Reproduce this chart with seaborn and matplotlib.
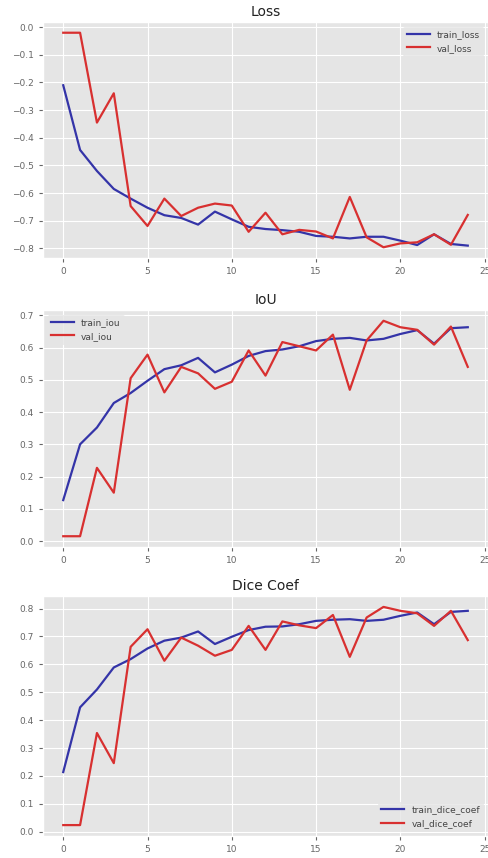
import numpy as np
import pandas as pd
import matplotlib
matplotlib.use("Agg")
import matplotlib.pyplot as plt
import seaborn as sns

epochs = list(range(25))

train_loss = [-0.21, -0.444, -0.52, -0.585, -0.62, -0.653, -0.68, -0.69, -0.714, -0.667,
              -0.695, -0.722, -0.73, -0.734, -0.74, -0.755, -0.758, -0.764, -0.758, -0.758,
              -0.772, -0.788, -0.749, -0.784, -0.79]
val_loss = [-0.02, -0.02, -0.345, -0.239, -0.647, -0.719, -0.62, -0.683, -0.653, -0.638,
            -0.645, -0.74, -0.671, -0.749, -0.733, -0.739, -0.764, -0.614, -0.76, -0.796,
            -0.782, -0.778, -0.749, -0.787, -0.679]

train_iou = [0.127, 0.30, 0.352, 0.428, 0.459, 0.497, 0.533, 0.545, 0.568, 0.523,
             0.547, 0.574, 0.589, 0.594, 0.604, 0.62, 0.627, 0.63, 0.622, 0.627,
             0.642, 0.654, 0.612, 0.66, 0.663]
val_iou = [0.015, 0.015, 0.227, 0.15, 0.505, 0.578, 0.461, 0.54, 0.52, 0.472,
           0.494, 0.591, 0.513, 0.617, 0.604, 0.591, 0.64, 0.469, 0.622, 0.683,
           0.663, 0.655, 0.609, 0.665, 0.54]

train_dice = [0.214, 0.446, 0.51, 0.589, 0.619, 0.657, 0.685, 0.696, 0.718, 0.673,
              0.699, 0.723, 0.735, 0.736, 0.744, 0.756, 0.76, 0.762, 0.756, 0.76,
              0.774, 0.786, 0.744, 0.788, 0.792]
val_dice = [0.024, 0.024, 0.354, 0.246, 0.663, 0.726, 0.613, 0.696, 0.667, 0.631,
            0.652, 0.738, 0.652, 0.754, 0.74, 0.73, 0.777, 0.627, 0.768, 0.806,
            0.792, 0.783, 0.738, 0.792, 0.687]

panels = [
    ("Loss", "train_loss", train_loss, "val_loss", val_loss, "upper right"),
    ("IoU", "train_iou", train_iou, "val_iou", val_iou, "upper left"),
    ("Dice Coef", "train_dice_coef", train_dice, "val_dice_coef", val_dice, "lower right"),
]

plt.style.use("ggplot")
W, H = 488, 858
fig = plt.figure(figsize=(W / 100, H / 100), dpi=100)

# axes boxes in pixels: left, top, right, bottom
boxes = [(43, 22, 488, 258), (43, 310, 488, 547), (43, 596, 488, 836)]

for (title, tname, tvals, vname, vvals, loc), (l, t, r, b) in zip(panels, boxes):
    ax = fig.add_axes([l / W, 1 - b / H, (r - l) / W, (b - t) / H])
    df = pd.DataFrame({
        "epoch": epochs + epochs,
        "value": tvals + vvals,
        "series": [tname] * len(tvals) + [vname] * len(vvals),
    })
    sns.lineplot(data=df, x="epoch", y="value", hue="series",
                 palette={tname: "#3434a8", vname: "#d83030"},
                 linewidth=1.6, ax=ax)
    ax.set_title(title, fontsize=10, pad=4, color="#222222")
    ax.set_xlabel("")
    ax.set_ylabel("")
    ax.set_xticks([0, 5, 10, 15, 20, 25])
    ax.tick_params(labelsize=6.5, colors="#666666", length=3)
    leg = ax.legend(loc=loc, fontsize=6.5, frameon=True, facecolor="#E5E5E5",
                    edgecolor="#E5E5E5", handlelength=2.5)
    for txt in leg.get_texts():
        txt.set_color("#444444")

fig.savefig("out.png", dpi=100)
